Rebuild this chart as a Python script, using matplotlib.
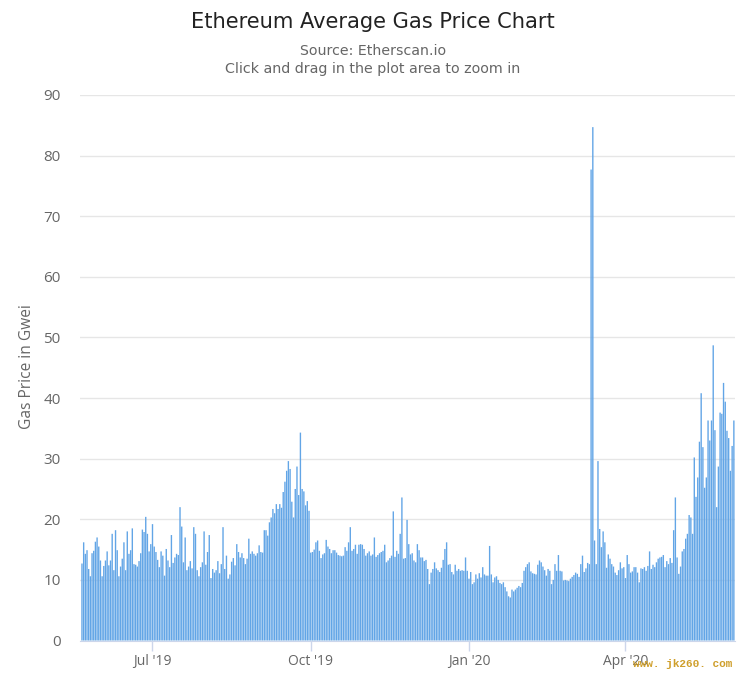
import matplotlib
matplotlib.use("Agg")
import matplotlib.pyplot as plt
import matplotlib.dates as mdates
import numpy as np
import pandas as pd

plt.rcParams['font.family'] = ['Open Sans', 'DejaVu Sans']

# Daily average gas price (Gwei), grouped by quarter
q2_2019 = [12.7, 16.2, 14.3, 14.9, 11.8, 10.6, 14.4, 14.8, 16.3, 17.0, 15.5, 13.2, 10.6, 12.3, 13.2,
           14.7, 12.4, 13.2, 17.6, 11.6, 18.2, 14.9, 10.6, 12.2, 13.5, 16.2, 11.6, 18.0, 14.3, 14.9,
           18.5, 12.6, 12.5, 12.2, 13.1, 14.4, 18.3, 17.9, 20.4, 17.6, 14.7, 15.9]
q3_2019 = [19.2, 15.5, 14.6, 13.3, 12.1, 14.7, 14.0, 10.7, 15.1, 13.2, 12.1, 17.4, 12.8, 13.7, 14.3,
           14.1, 22.0, 18.8, 12.9, 17.0, 11.6, 12.2, 13.1, 11.9, 18.7, 17.6, 11.6, 10.6, 12.1, 12.9,
           18.0, 12.5, 14.6, 17.4, 10.3, 11.8, 11.2, 11.6, 13.1, 11.1, 12.6, 18.7, 11.8, 14.0, 10.2,
           10.9, 13.0, 13.6, 12.4, 15.9, 14.6, 13.7, 14.4, 13.6, 12.6, 13.5, 16.8, 14.3, 14.7, 14.3,
           14.0, 14.4, 15.7, 14.6, 14.5, 18.2, 18.2, 17.3, 19.5, 20.3, 21.7, 21.0, 22.5, 21.7, 22.5,
           21.9, 24.5, 26.2, 28.0, 29.6, 28.3, 22.9, 20.3, 25.0, 28.7, 24.0, 34.3, 25.0, 24.6, 22.3,
           23.0, 21.4]
q4_2019 = [14.5, 14.6, 15.0, 16.2, 16.5, 14.8, 13.6, 14.2, 14.4, 16.6, 15.5, 15.1, 14.4, 14.9, 14.9,
           14.5, 14.1, 14.0, 13.9, 14.0, 15.4, 14.8, 16.2, 18.7, 14.8, 15.1, 15.8, 14.3, 15.8, 15.9,
           15.8, 15.1, 14.0, 14.4, 14.7, 14.0, 14.2, 17.0, 13.8, 14.1, 14.4, 14.6, 14.8, 15.8, 12.9,
           13.2, 13.6, 14.0, 21.3, 13.8, 14.8, 14.3, 17.6, 23.6, 13.5, 13.6, 19.9, 15.9, 14.2, 14.4,
           13.2, 12.9, 15.9, 14.9, 13.7, 13.7, 13.1, 13.3, 11.8, 9.3, 11.2, 11.8, 12.9, 11.9, 11.6,
           11.3, 12.0, 13.3, 15.1, 16.2, 12.5, 12.6, 11.3, 10.9, 12.5, 11.5, 11.8, 11.5, 11.6, 11.5,
           13.7, 11.5]
q1_2020 = [10.2, 11.3, 9.3, 9.6, 10.9, 10.2, 11.1, 10.4, 12.1, 10.9, 10.7, 10.7, 15.6, 10.9, 9.6,
           10.4, 10.6, 10.0, 9.5, 9.3, 9.6, 8.8, 8.1, 7.3, 7.1, 8.4, 8.1, 8.4, 8.7, 9.0,
           8.8, 9.5, 11.5, 12.1, 12.6, 12.9, 11.4, 11.1, 11.0, 10.9, 12.5, 13.2, 12.9, 12.2, 11.6,
           10.7, 11.8, 11.5, 9.3, 10.0, 12.6, 11.5, 14.1, 11.5, 11.4, 9.9, 10.0, 9.9, 9.8, 10.2,
           10.5, 10.8, 11.2, 11.0, 10.5, 12.6, 14.0, 11.3, 11.9, 12.8, 12.6, 77.7, 84.7, 16.5, 12.6,
           29.6, 18.4, 15.4, 18.0, 16.2, 12.0, 14.2, 13.5, 12.6, 12.2, 11.2, 10.8, 11.6, 12.9, 11.9,
           12.1]
q2_2020 = [10.3, 14.1, 12.6, 11.2, 11.4, 12.1, 12.1, 11.2, 9.6, 11.9, 11.8, 12.1, 11.5, 12.3, 14.7,
           11.8, 12.5, 12.1, 12.9, 13.5, 13.7, 13.8, 14.1, 12.1, 13.1, 12.6, 13.6, 12.8, 18.2, 23.6,
           13.7, 11.0, 12.2, 14.7, 15.1, 16.8, 17.6, 20.7, 20.3, 17.6, 30.2, 23.7, 26.9, 32.8, 40.8,
           31.9, 25.2, 26.9, 36.3, 33.0, 36.3, 48.7, 34.7, 22.0, 28.7, 37.6, 37.4, 42.5, 39.4, 34.6,
           33.4, 28.0, 32.1, 36.3]

segments = [(q2_2019, "2019-05-21", "2019-06-30"),
            (q3_2019, "2019-07-01", "2019-09-30"),
            (q4_2019, "2019-10-01", "2019-12-31"),
            (q1_2020, "2020-01-01", "2020-03-31"),
            (q2_2020, "2020-04-01", "2020-06-03")]

tick_dates = ["2019-07-01", "2019-10-01", "2020-01-01", "2020-04-01"]
tick_labels = ["Jul '19", "Oct '19", "Jan '20", "Apr '20"]
y_ticks = list(range(0, 100, 10))

W, H = 745, 684
fig = plt.figure(figsize=(W / 100, H / 100), dpi=100, facecolor="white")
ax = fig.add_axes([80 / W, 1 - 640.5 / H, 655 / W, 545.5 / H])

for vals, start, end in segments:
    xs = np.linspace(mdates.date2num(pd.Timestamp(start)), mdates.date2num(pd.Timestamp(end)), len(vals))
    bars = ax.bar(xs, vals, width=0.8, color="#62a5e6", linewidth=0, zorder=3)
    for b in bars:
        b.set_snap(False)

x0 = mdates.date2num(pd.Timestamp("2019-05-19")) + 0.85
ax.set_xlim(x0, x0 + 655 / 1.72)
ax.set_ylim(0, 90)
ax.set_yticks(y_ticks)
ax.grid(axis="y", color="#e6e6e6", linewidth=1, zorder=0)
ax.set_axisbelow(True)
for s in ["top", "right", "left"]:
    ax.spines[s].set_visible(False)
ax.spines["bottom"].set_color("#ccd6eb")
ax.set_xticks([mdates.date2num(pd.Timestamp(d)) for d in tick_dates])
ax.set_xticklabels(tick_labels)
ax.tick_params(axis="x", length=7, width=1, color="#ccd6eb", labelcolor="#666666", labelsize=10, pad=3)
ax.tick_params(axis="y", length=0, labelcolor="#666666", labelsize=11, pad=14)
ax.set_ylabel("Gas Price in Gwei", color="#666666", fontsize=11.2, va="center")
ax.yaxis.set_label_coords((27 - 80) / 655, (640.5 - 367) / 545.5)

fig.text(373 / W, 1 - 22 / H, "Ethereum Average Gas Price Chart", ha="center", va="center",
         fontsize=15.1, color="#222222", family="DejaVu Sans")
fig.text(373 / W, 1 - 51 / H, "Source: Etherscan.io", ha="center", va="center", fontsize=10.2,
         color="#666666", family="DejaVu Sans")
fig.text(373 / W, 1 - 69 / H, "Click and drag in the plot area to zoom in", ha="center", va="center",
         fontsize=10.3, color="#666666", family="DejaVu Sans")
fig.text(682.5 / W, 1 - 664 / H, "www. jk260. com", ha="center", va="center", fontsize=8,
         family=["Liberation Mono", "DejaVu Sans Mono"], weight="bold", color="#cf9f2b")

fig.savefig("out.png", dpi=100)
